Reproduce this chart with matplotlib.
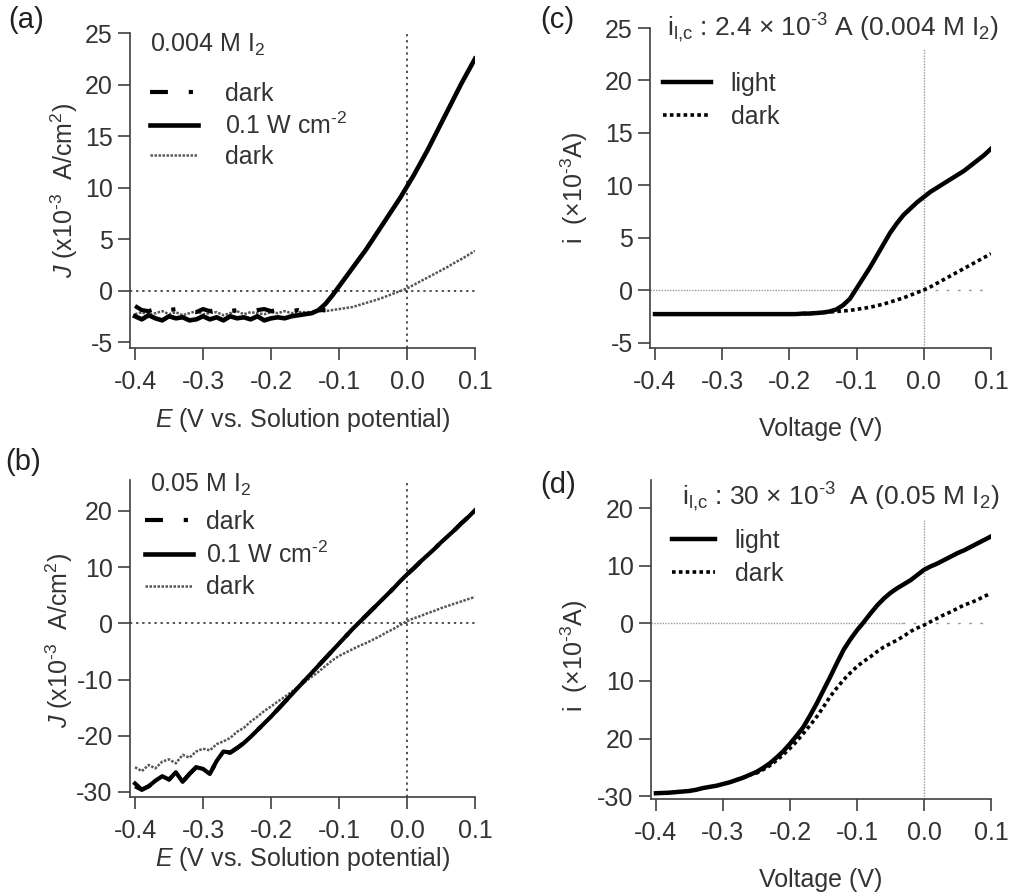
import matplotlib
matplotlib.use("Agg")
import matplotlib.pyplot as plt
from matplotlib.lines import Line2D

plt.rcParams['font.family'] = ['Liberation Sans', 'DejaVu Sans']
plt.rcParams['mathtext.fontset'] = 'custom'
plt.rcParams['mathtext.rm'] = 'Liberation Sans'
plt.rcParams['mathtext.it'] = 'Liberation Sans:italic'
plt.rcParams['mathtext.default'] = 'regular'
plt.rcParams['axes.unicode_minus'] = False

TXT = '#333333'
AX = '#404040'

# voltage sweep, shared by all panels
V = [-0.40, -0.39, -0.38, -0.37, -0.36, -0.35, -0.34, -0.33, -0.32, -0.31,
     -0.30, -0.29, -0.28, -0.27, -0.26, -0.25, -0.24, -0.23, -0.22, -0.21,
     -0.20, -0.19, -0.18, -0.17, -0.16, -0.15, -0.14, -0.13, -0.12, -0.11,
     -0.10, -0.09, -0.08, -0.07, -0.06, -0.05, -0.04, -0.03, -0.02, -0.01,
     0.00, 0.01, 0.02, 0.03, 0.04, 0.05, 0.06, 0.07, 0.08, 0.09, 0.10]

# (a) 0.004 M I2, J in 1e-3 A/cm2
# first dark scan only shows in the flat part (-0.40 .. -0.12)
a_dark1 = [-1.5, -1.9, -2.0, -1.8, -2.1, -1.9, -1.8, -2.0, -1.9, -2.1,
           -1.8, -2.0, -1.9, -1.7, -2.0, -1.9, -1.8, -2.0, -1.9, -1.8,
           -2.0, -1.9, -1.8, -2.0, -1.9, -2.0, -2.0, -1.9, -1.9]
a_light = [-2.5, -2.8, -2.4, -2.7, -2.9, -2.5, -2.7, -2.6, -2.9, -2.8,
           -2.5, -2.8, -2.6, -2.9, -2.5, -2.7, -2.6, -2.8, -2.5, -2.9,
           -2.7, -2.6, -2.7, -2.5, -2.4, -2.3, -2.2, -1.9, -1.3, -0.5,
           0.4, 1.3, 2.2, 3.1, 4.0, 5.0, 6.0, 7.0, 8.0, 9.0,
           10.1, 11.2, 12.4, 13.6, 14.9, 16.2, 17.5, 18.8, 20.1, 21.3, 22.5]
a_dark2 = [-2.3, -2.1, -2.4, -2.2, -2.0, -2.3, -2.1, -2.4, -2.2, -2.0,
           -2.3, -2.2, -2.1, -2.4, -2.2, -2.0, -2.3, -2.1, -2.2, -2.3,
           -2.1, -2.2, -2.0, -2.2, -2.1, -2.1, -2.1, -2.0, -2.0, -1.9,
           -1.8, -1.7, -1.6, -1.4, -1.2, -1.0, -0.8, -0.55, -0.3, -0.05,
           0.2, 0.55, 0.9, 1.25, 1.6, 1.95, 2.3, 2.7, 3.05, 3.45, 3.85]

# (b) 0.05 M I2
b_dark1 = [-29.0, -29.6, -29.0, -28.0, -27.2, -27.8, -26.5, -28.2, -26.8, -25.6,
           -25.9, -26.8, -24.5, -22.8, -23.0, -22.2, -21.3, -20.2, -19.0, -17.8,
           -16.6, -15.3, -14.0, -12.7, -11.4, -10.1, -8.8, -7.5, -6.2, -4.9,
           -3.6, -2.3, -1.0, 0.2, 1.4, 2.6, 3.8, 5.0, 6.2, 7.5,
           8.7, 9.8, 11.0, 12.1, 13.2, 14.4, 15.5, 16.6, 17.8, 18.9, 20.1]
b_light = [-28.5, -29.6, -29.0, -28.0, -27.2, -27.8, -26.5, -28.2, -26.8, -25.6,
           -25.9, -26.8, -24.5, -22.8, -23.0, -22.2, -21.3, -20.2, -19.0, -17.8,
           -16.6, -15.3, -14.0, -12.7, -11.4, -10.1, -8.8, -7.5, -6.2, -4.9,
           -3.6, -2.3, -1.0, 0.2, 1.4, 2.6, 3.8, 5.0, 6.2, 7.5,
           8.7, 9.8, 11.0, 12.1, 13.2, 14.4, 15.5, 16.6, 17.8, 18.9, 20.1]
b_dark2 = [-25.6, -26.3, -25.2, -25.8, -24.6, -24.2, -24.9, -23.4, -23.9, -22.8,
           -22.3, -22.6, -21.5, -21.0, -20.4, -19.3, -18.6, -17.5, -16.6, -15.6,
           -14.8, -13.9, -13.1, -12.2, -11.3, -10.4, -9.5, -8.6, -7.6, -6.6,
           -5.8, -5.2, -4.6, -4.0, -3.5, -2.9, -2.3, -1.6, -1.0, -0.3,
           0.4, 0.9, 1.3, 1.8, 2.2, 2.7, 3.1, 3.5, 3.9, 4.3, 4.7]

# (c) current in 1e-3 A, i_lc = 2.4e-3 A
c_light = [-2.25, -2.25, -2.25, -2.25, -2.25, -2.25, -2.25, -2.25, -2.25, -2.25,
           -2.25, -2.25, -2.25, -2.25, -2.25, -2.25, -2.25, -2.25, -2.25, -2.25,
           -2.25, -2.25, -2.2, -2.2, -2.15, -2.1, -2.0, -1.8, -1.4, -0.8,
           0.2, 1.2, 2.2, 3.3, 4.4, 5.5, 6.4, 7.2, 7.8, 8.4,
           8.9, 9.4, 9.8, 10.2, 10.6, 11.0, 11.4, 11.9, 12.4, 12.9, 13.5]
c_dark = [-2.25, -2.25, -2.2, -2.2, -2.15, -2.1, -2.05, -2.0, -1.95, -1.9,
          -1.8, -1.7, -1.6, -1.45, -1.3, -1.1, -0.9, -0.7, -0.45, -0.2,
          0.05, 0.35, 0.7, 1.05, 1.4, 1.75, 2.1, 2.45, 2.8, 3.15, 3.5]

# (d) i_lc = 30e-3 A
d_light = [-29.5, -29.45, -29.4, -29.3, -29.2, -29.1, -28.9, -28.6, -28.4, -28.2,
           -27.9, -27.6, -27.2, -26.8, -26.3, -25.8, -25.1, -24.3, -23.3, -22.2,
           -20.9, -19.5, -18.0, -16.0, -13.9, -11.6, -9.3, -6.9, -4.6, -2.8,
           -1.2, 0.2, 1.7, 3.1, 4.3, 5.3, 6.1, 6.8, 7.5, 8.4,
           9.3, 9.9, 10.4, 11.0, 11.6, 12.2, 12.7, 13.3, 13.9, 14.5, 15.1]
d_dark = [-27.2, -26.8, -26.3,
          -26.0, -25.4, -24.7, -23.8, -22.8, -21.7, -20.5, -19.1, -17.7, -16.2,
          -14.5, -12.7, -11.2, -9.8, -8.6, -7.5, -6.6, -5.8, -4.9, -4.1,
          -3.5, -2.9, -2.2, -1.4, -0.8, -0.3, 0.3, 0.9, 1.5, 2.0,
          2.6, 3.2, 3.6, 4.1, 4.7, 5.2]

xticks = [-0.4, -0.3, -0.2, -0.1, 0.0, 0.1]
xtick_labels = ['-0.4', '-0.3', '-0.2', '-0.1', '0.0', '0.1']
yticks_a = [-5, 0, 5, 10, 15, 20, 25]
yticks_b = [-30, -20, -10, 0, 10, 20]
yticks_c = [-5, 0, 5, 10, 15, 20, 25]
yticks_d = [-30, -20, -10, 0, 10, 20]
ytick_labels_d = ['-30', '20', '10', '0', '10', '20']

W, H = 1010, 896
fig = plt.figure(figsize=(W / 100, H / 100), dpi=100)


def px_axes(l, r, t, b):
    return fig.add_axes([l / W, (H - b) / H, (r - l) / W, (b - t) / H])


def style(ax, yticks, ylim, ylabels=None):
    for s in ['top', 'right']:
        ax.spines[s].set_visible(False)
    for s in ['left', 'bottom']:
        ax.spines[s].set_color(AX)
        ax.spines[s].set_linewidth(1.2)
    ax.set_xlim(-0.4074, 0.1)
    ax.set_ylim(*ylim)
    ax.set_xticks(xticks)
    ax.set_xticklabels(xtick_labels)
    ax.set_yticks(yticks)
    if ylabels is not None:
        ax.set_yticklabels(ylabels)
    ax.tick_params(axis='both', direction='out', length=8.5, width=1.2,
                   color=AX, labelcolor=TXT, labelsize=18)
    ax.tick_params(axis='x', pad=7)
    ax.tick_params(axis='y', pad=4)
    ax.patch.set_alpha(0)


dashdot = (0, (4.3, 5.0, 1.0, 5.0))
fine = (0, (1, 0.6))
square_dots = (0, (1, 0.9))

J_LABEL = '$\\mathit{J}$ (x10$^{\\text{-3}}$  A/cm$^{2}$)'
E_LABEL = '$\\mathit{E}$ (V vs. Solution potential)'
I_LABEL = 'i  (×10$^{\\text{-3}}$A)'
LIGHT_A = '0.1 W cm$^{\\text{-2}}$'

# ---- (a)
ax = px_axes(130, 475, 33, 348)
style(ax, yticks_a, (-5.58, 25))
ax.axhline(0, color='#222222', lw=1.1, ls=(0, (1.5, 2.5)), zorder=1)
ax.axvline(0, color='#222222', lw=1.1, ls=(0, (1.5, 2.5)), zorder=1)
ax.plot(V, a_dark2, color='#555555', lw=1.8, ls=fine)
ax.plot(V[:len(a_dark1)], a_dark1, color='black', lw=3, ls=dashdot)
ax.plot(V, a_light, color='black', lw=3.3)
ax.set_xlabel(E_LABEL, fontsize=18, color=TXT)
ax.xaxis.set_label_coords(0.5, -0.184)
ax.set_ylabel(J_LABEL, fontsize=18, color=TXT)
ax.yaxis.set_label_coords(-50 / 345, 0.5)
handles = [Line2D([], [], color='black', lw=3, ls=dashdot),
           Line2D([], [], color='black', lw=3.3),
           Line2D([], [], color='#555555', lw=1.8, ls=fine)]
ax.legend(handles, ['dark', LIGHT_A, 'dark'], loc='upper left',
          bbox_to_anchor=(150 / W, (H - 82) / H), bbox_transform=fig.transFigure,
          frameon=False, fontsize=18, handlelength=1.9, handletextpad=1.1,
          labelspacing=0.25, borderpad=0, borderaxespad=0, labelcolor=TXT)
fig.text(150 / W, (H - 45) / H, '0.004 M I$_{2}$', fontsize=18, color=TXT, va='center')
fig.text(8 / W, (H - 20) / H, '(a)', fontsize=21, color='#222222', va='center')

# ---- (b)
ax = px_axes(130, 475, 480, 797)
style(ax, yticks_b, (-30.9, 25.5))
ax.axhline(0, color='#222222', lw=1.1, ls=(0, (1.5, 2.5)), zorder=1)
ax.axvline(0, color='#222222', lw=1.1, ls=(0, (1.5, 2.5)), zorder=1)
ax.plot(V, b_dark2, color='#555555', lw=1.8, ls=fine)
ax.plot(V, b_dark1, color='black', lw=3, ls=dashdot)
ax.plot(V, b_light, color='black', lw=3.0)
ax.set_xlabel(E_LABEL, fontsize=18, color=TXT)
ax.xaxis.set_label_coords(0.5, -0.151)
ax.set_ylabel(J_LABEL, fontsize=18, color=TXT)
ax.yaxis.set_label_coords(-55 / 345, 0.495)
ax.legend(handles, ['dark', LIGHT_A, 'dark'], loc='upper left',
          bbox_to_anchor=(145 / W, (H - 510) / H), bbox_transform=fig.transFigure,
          frameon=False, fontsize=18, handlelength=1.9, handletextpad=0.55,
          labelspacing=0.3, borderpad=0, borderaxespad=0, labelcolor=TXT)
fig.text(150 / W, (H - 485) / H, '0.05 M I$_{2}$', fontsize=18, color=TXT, va='center')
fig.text(5 / W, (H - 462) / H, '(b)', fontsize=21, color='#222222', va='center')

# ---- (c)
ax = px_axes(650, 991, 28, 348)
style(ax, yticks_c, (-5.48, 25))
ax.hlines(0, -0.4074, 0.0, color='#999999', lw=1.0, ls=(0, (1, 1)), zorder=1)
ax.hlines(0, 0.0, 0.1, color='#999999', lw=1.0, ls=(0, (2, 6)), zorder=1)
ax.vlines(0, -5.48, 23, color='#999999', lw=1.0, ls=(0, (1, 1)), zorder=1)
ax.plot(V, c_light, color='black', lw=3.2)
ax.plot(V[-len(c_dark):], c_dark, color='black', lw=2.6, ls=square_dots)
ax.set_xlabel('Voltage (V)', fontsize=18, color=TXT)
ax.xaxis.set_label_coords(0.5, -0.215)
ax.set_ylabel(I_LABEL, fontsize=18, color=TXT)
ax.yaxis.set_label_coords(-60 / 341, 0.5)
handles_c = [Line2D([], [], color='black', lw=3.2),
             Line2D([], [], color='black', lw=2.6, ls=square_dots)]
ax.legend(handles_c, ['light', 'dark'], loc='upper left',
          bbox_to_anchor=(663 / W, (H - 72) / H), bbox_transform=fig.transFigure,
          frameon=False, fontsize=18, handlelength=1.9, handletextpad=0.8,
          labelspacing=0.35, borderpad=0, borderaxespad=0, labelcolor=TXT)
fig.text(667 / W, (H - 28) / H,
         'i$_{\\text{l,c}}$ : 2.4 × 10$^{\\text{-3}}$ A (0.004 M I$_{2}$)',
         fontsize=19, color=TXT, va='center')
fig.text(540 / W, (H - 20) / H, '(c)', fontsize=21, color='#222222', va='center')

# ---- (d)
ax = px_axes(651, 991, 480, 799)
style(ax, yticks_d, (-30.5, 24.9), ytick_labels_d)
ax.hlines(0, -0.4074, -0.033, color='#999999', lw=1.0, ls=(0, (1, 1)), zorder=1)
ax.hlines(0, -0.033, 0.1, color='#999999', lw=1.0, ls=(0, (2, 6)), zorder=1)
ax.vlines(0, -30.5, 18, color='#999999', lw=1.0, ls=(0, (1, 1)), zorder=1)
ax.plot(V, d_light, color='black', lw=3.2)
ax.plot(V[-len(d_dark):], d_dark, color='black', lw=2.6, ls=square_dots)
ax.set_xlabel('Voltage (V)', fontsize=18, color=TXT)
ax.xaxis.set_label_coords(0.5, -0.215)
ax.set_ylabel(I_LABEL, fontsize=18, color=TXT)
ax.yaxis.set_label_coords(-61 / 340, 0.45)
ax.legend(handles_c, ['light', 'dark'], loc='upper left',
          bbox_to_anchor=(672 / W, (H - 529) / H), bbox_transform=fig.transFigure,
          frameon=False, fontsize=18, handlelength=1.7, handletextpad=0.8,
          labelspacing=0.35, borderpad=0, borderaxespad=0, labelcolor=TXT)
fig.text(682 / W, (H - 497) / H,
         'i$_{\\text{l,c}}$ : 30 × 10$^{\\text{-3}}$  A (0.05 M I$_{2}$)',
         fontsize=19, color=TXT, va='center')
fig.text(540 / W, (H - 485) / H, '(d)', fontsize=21, color='#222222', va='center')

fig.savefig('out.png', dpi=100)
